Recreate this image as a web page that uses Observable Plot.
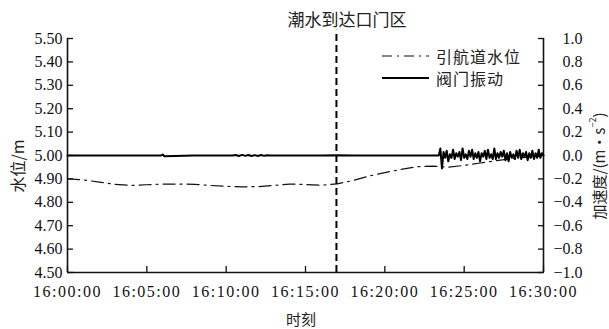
<!DOCTYPE html>
<html><head><meta charset="utf-8">
<script src="https://cdn.jsdelivr.net/npm/d3@7"></script>
<script src="https://cdn.jsdelivr.net/npm/@observablehq/plot@0.6"></script>
<style>
body{margin:0;background:#fff}
#chart svg{overflow:visible}
#chart svg g[aria-label*="tick label"] text, #chart svg g.numtext text{font-family:'Liberation Serif','Times New Roman','DejaVu Serif',serif !important}
#chart g[aria-label="x-axis tick label"] text{letter-spacing:1.5px}
</style>
</head><body><div id="chart"></div>
<script>
// ---- data ----
const levelMinutes = [0,1,2,3,4,5,6,7,8,9,10,11,12,13,14,15,16,17,18,19,20,21,22,23,24,25,26,27,28,29,30];
const levelValues = [4.900,4.896,4.886,4.877,4.872,4.875,4.878,4.878,4.877,4.872,4.868,4.866,4.867,4.872,4.878,4.876,4.873,4.879,4.893,4.912,4.927,4.940,4.952,4.955,4.950,4.958,4.968,4.978,4.986,4.993,4.998];

const vibQuietMinutes = [0,2,4,5.9,6.0,6.1,8,10.4,10.6,10.8,11.0,11.2,11.4,11.6,11.8,12.0,12.2,12.4,12.6,12.8,14,16,17,18,20,22,23.3];
const vibQuietValues  = [0,0,0,0,0.008,-0.006,0,0,0.004,-0.004,0.005,-0.003,0.004,-0.004,0.003,-0.004,0.004,-0.003,0.003,0,0,0,0.003,0,0,0,0];
const vibNoisyStart = 23.4, vibNoisyStep = 0.1;
const vibNoisyValues = [
 0.00, 0.06,-0.11, 0.03,-0.02, 0.04,-0.05, 0.01,-0.02, 0.05,
-0.03, 0.02,-0.01, 0.03,-0.04, 0.06,-0.02, 0.01,-0.03, 0.04,
-0.01, 0.05,-0.03, 0.02,-0.02, 0.03,-0.05, 0.02,-0.01, 0.04,
-0.03, 0.05,-0.02, 0.01,-0.03, 0.06,-0.03, 0.02,-0.02, 0.03,
-0.01, 0.04,-0.04, 0.02,-0.05, 0.03,-0.02, 0.01,-0.03, 0.04,
-0.02, 0.05,-0.03, 0.02,-0.01, 0.03,-0.04, 0.02,-0.02, 0.04,
-0.03, 0.02,-0.02, 0.05,-0.02, 0.02, 0.00];

const eventMinute = 16.95;
const timeTicks = [0,5,10,15,20,25,30];
const levelTicks = [4.5,4.6,4.7,4.8,4.9,5.0,5.1,5.2,5.3,5.4,5.5];
const accTicks = [-1.0,-0.8,-0.6,-0.4,-0.2,0.0,0.2,0.4,0.6,0.8,1.0];

const titleText = "潮水到达口门区";
const seriesNames = ["引航道水位","阀门振动"];
const xTitle = "时刻", yTitle = "水位/m";

// ---- build ----
const serif = "Liberation Serif, Times New Roman, DejaVu Serif, serif";
const acc2level = a => 5 + a / 2;
const levelData = levelMinutes.map((t, i) => ({t, v: levelValues[i]}));
const vibData = vibQuietMinutes.map((t, i) => ({t, v: acc2level(vibQuietValues[i])}))
  .concat(vibNoisyValues.map((a, i) => ({t: vibNoisyStart + i * vibNoisyStep, v: acc2level(a)})));

const pad = n => String(n).padStart(2, "0");
const fmtTime = d => `16:${pad(d)}:00`;
const fmtAcc = d => (d < 0 ? "\u2212" : "") + Math.abs(d).toFixed(1);

const plot = Plot.plot({
  width: 609, height: 329,
  marginLeft: 67, marginRight: 66, marginTop: 38, marginBottom: 57,
  style: {background: "white", color: "#111"},
  x: {domain: [0, 30]},
  y: {domain: [4.5, 5.5]},
  marks: [
    Plot.axisY({anchor: "left", ticks: levelTicks, tickSize: 6, dx: 6, tickFormat: () => "", label: null, strokeWidth: 1.3}),
    Plot.axisY({anchor: "left", ticks: levelTicks, tickSize: 0, tickPadding: 5, tickFormat: d => d.toFixed(2), label: null, fontSize: 16, fontFamily: serif}),
    Plot.axisY({anchor: "right", ticks: accTicks.map(acc2level), tickSize: 6, dx: -6, tickFormat: () => "", label: null, strokeWidth: 1.3}),
    Plot.text(accTicks, {y: acc2level, text: fmtAcc, frameAnchor: "right", dx: 39, textAnchor: "end", fontSize: 16, fontFamily: serif, className: "numtext"}),
    Plot.axisX({ticks: timeTicks, tickSize: 6, dy: -6, tickFormat: () => "", label: null, strokeWidth: 1.3}),
    Plot.axisX({ticks: timeTicks, tickSize: 0, tickPadding: 13, tickFormat: fmtTime, label: null, fontSize: 16, fontFamily: serif}),
    Plot.ruleX([0, 30], {stroke: "#111", strokeWidth: 1.6}),
    Plot.ruleY([4.5], {stroke: "#111", strokeWidth: 1.6}),
    Plot.line(levelData, {x: "t", y: "v", stroke: "#111", strokeWidth: 1.2, strokeDasharray: "12,5,2,5"}),
    Plot.line(vibData, {x: "t", y: "v", stroke: "#000", strokeWidth: 2}),
    Plot.ruleX([eventMinute], {y1: 4.5, y2: 5.535, stroke: "#000", strokeWidth: 2, strokeDasharray: "7,4"})
  ]
});
document.getElementById("chart").append(plot);

// ---- annotations ----
const svg = d3.select(plot);
const cjk = "'Noto Sans CJK SC','Noto Sans',sans-serif";
const addText = (x, y, txt, size, anchor) => svg.append("text").attr("x", x).attr("y", y)
  .attr("text-anchor", anchor).attr("dominant-baseline", "central")
  .style("font-family", cjk).style("font-size", size + "px").attr("fill", "#222").text(txt);

addText(347, 18, titleText, 17, "middle");

const leg = svg.append("g");
leg.append("line").attr("x1", 382).attr("x2", 429).attr("y1", 56).attr("y2", 56)
  .attr("stroke", "#111").attr("stroke-width", 1.2).attr("stroke-dasharray", "10,5,2,5");
leg.append("line").attr("x1", 382).attr("x2", 429).attr("y1", 78).attr("y2", 78)
  .attr("stroke", "#000").attr("stroke-width", 2);
seriesNames.forEach((s, i) => addText(436, 55.5 + i * 22, s, 16, "start").style("letter-spacing", "1px"));

addText(301, 318, xTitle, 15, "middle");

svg.append("text").attr("transform", "translate(17,166) rotate(-90)").attr("text-anchor", "middle").attr("dominant-baseline", "central")
  .style("font-family", cjk).style("font-size", "16px").attr("fill", "#222").text(yTitle);

const ry = svg.append("text").attr("transform", "translate(598,166) rotate(-90)").attr("text-anchor", "middle").attr("dominant-baseline", "central")
  .style("font-family", cjk).style("font-size", "15px").attr("fill", "#222");
ry.append("tspan").text("加速度/(m·s");
ry.append("tspan").attr("dy", -6).style("font-size", "9px").text("\u22122");
ry.append("tspan").attr("dy", 6).text(")");
</script></body></html>
